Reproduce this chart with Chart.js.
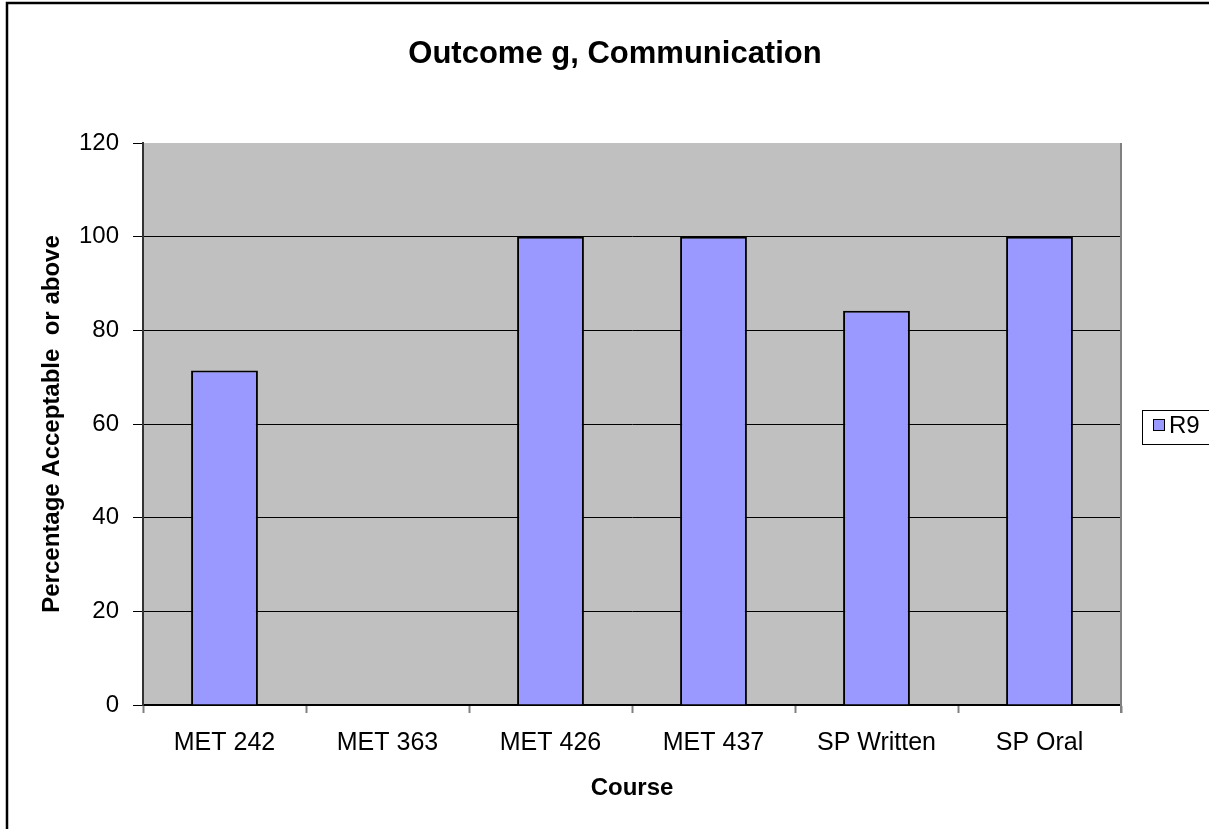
<!DOCTYPE html>
<html>
<head>
<meta charset="utf-8">
<title>Outcome g, Communication</title>
<script src="https://cdn.jsdelivr.net/npm/chart.js@4"></script>
<style>
  html, body { margin: 0; padding: 0; background: #fff; }
  #wrap { width: 1209px; height: 829px; position: relative; }
</style>
</head>
<body>
<div id="wrap"><canvas id="chart"></canvas></div>
<script>
'use strict';

// chart data
const chartTitle = 'Outcome g, Communication';
const courses = ['MET 242', 'MET 363', 'MET 426', 'MET 437', 'SP Written', 'SP Oral'];
const r9Values = [71.4, null, 100, 100, 84.2, 100];
const seriesName = 'R9';
const yTitle = 'Percentage Acceptable  or above';
const xTitle = 'Course';

const FONT = '"Liberation Sans", Arial, sans-serif';

// plot background, frame, title and legend box
const excelLook = {
  id: 'excelLook',
  beforeDraw(chart) {
    const ctx = chart.ctx;
    const a = chart.chartArea;
    ctx.save();
    ctx.fillStyle = '#fff';
    ctx.fillRect(0, 0, chart.width, chart.height);
    ctx.fillStyle = '#c0c0c0';
    ctx.fillRect(a.left, a.top, a.right - a.left, a.bottom - a.top);
    ctx.restore();
  },
  afterDraw(chart) {
    const ctx = chart.ctx;
    const a = chart.chartArea;
    ctx.save();
    // right edge of the plot area
    ctx.strokeStyle = '#808080';
    ctx.lineWidth = 2;
    ctx.beginPath();
    ctx.moveTo(a.right, a.top);
    ctx.lineTo(a.right, a.bottom + 8);
    ctx.stroke();

    // outer chart border
    ctx.strokeStyle = '#000';
    ctx.lineWidth = 2.5;
    ctx.strokeRect(7, 3, chart.width + 10, chart.height + 10);

    // title
    ctx.fillStyle = '#000';
    ctx.font = 'bold 31px ' + FONT;
    ctx.textAlign = 'center';
    ctx.textBaseline = 'middle';
    ctx.fillText(chartTitle, 615, 54);

    // legend
    const ds = chart.data.datasets[0];
    ctx.fillStyle = '#fff';
    ctx.fillRect(1142, 410, 80, 34);
    ctx.strokeStyle = '#000';
    ctx.lineWidth = 1;
    ctx.strokeRect(1142.5, 410.5, 80, 34);
    ctx.fillStyle = ds.backgroundColor;
    ctx.fillRect(1153.5, 419.5, 11, 11);
    ctx.strokeRect(1153.5, 419.5, 11, 11);
    ctx.fillStyle = '#000';
    ctx.font = '24px ' + FONT;
    ctx.textAlign = 'left';
    ctx.fillText(ds.label, 1169, 426);
    ctx.restore();
  }
};

const ctx = document.getElementById('chart');
new Chart(ctx, {
  type: 'bar',
  data: {
    labels: courses,
    datasets: [{
      label: seriesName,
      data: r9Values,
      backgroundColor: '#9999ff',
      borderColor: '#000',
      borderWidth: 2,
      barPercentage: 0.41,
      categoryPercentage: 1
    }]
  },
  options: {
    responsive: true,
    maintainAspectRatio: false,
    animation: false,
    layout: { padding: { top: 143, right: 88, bottom: 0, left: 0 } },
    plugins: {
      legend: { display: false },
      title: { display: false },
      tooltip: { enabled: false }
    },
    scales: {
      x: {
        afterFit(scale) { scale.height = 124; },
        grid: {
          offset: true,
          drawOnChartArea: false,
          drawTicks: true,
          tickLength: 8,
          tickColor: '#808080',
          tickWidth: 2
        },
        border: { color: '#000', width: 2 },
        ticks: {
          color: '#000',
          padding: 15,
          font: { family: FONT, size: 25 }
        },
        title: {
          display: true,
          text: xTitle,
          color: '#000',
          padding: { top: 0, bottom: 26 },
          font: { family: FONT, size: 24, weight: 'bold' }
        }
      },
      y: {
        min: 0,
        max: 120,
        afterFit(scale) { scale.width = 143; },
        ticks: {
          stepSize: 20,
          color: '#000',
          padding: 14,
          font: { family: FONT, size: 24 }
        },
        grid: {
          color: (c) => (c.tick && c.tick.value === 120 ? 'rgba(0,0,0,0)' : '#000'),
          lineWidth: 1,
          tickLength: 10,
          tickColor: '#000',
          tickWidth: 1
        },
        border: { color: '#333', width: 2 },
        title: {
          display: true,
          text: yTitle,
          color: '#000',
          padding: { top: 38, bottom: 0 },
          font: { family: FONT, size: 24, weight: 'bold' }
        }
      }
    }
  },
  plugins: [excelLook]
});
</script>
</body>
</html>
